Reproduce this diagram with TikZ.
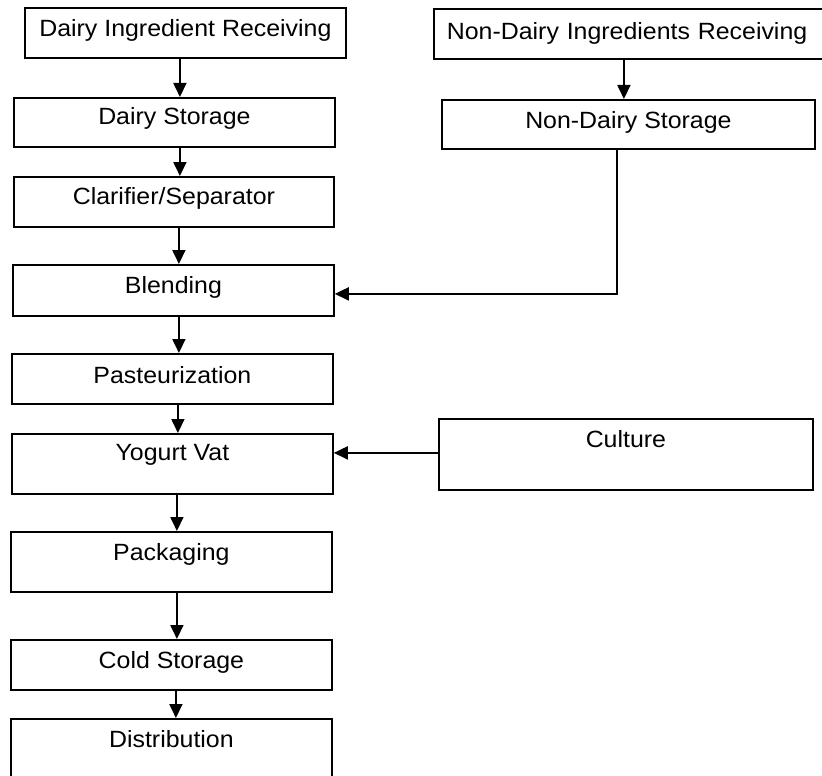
\documentclass[tikz,border=0pt]{standalone}
\usepackage{fontspec}
\setmainfont{Liberation Sans}[FakeStretch=1.06]
\usetikzlibrary{arrows.meta}
\begin{document}
\begin{tikzpicture}[x=1pt,y=-1pt,
  box/.style={draw, line width=1.8pt, anchor=north west, inner sep=0pt,
    font=\fontsize{23.5}{26}\selectfont},
  arr/.style={line width=1.8pt, -{Triangle[length=14pt,width=13pt]}}]
\useasboundingbox[fill=white] (0,0) rectangle (822,776);
\node[box, minimum width=321, text height=29, text depth=21] (dir) at (24,7) {Dairy Ingredient Receiving};
\node[box, minimum width=402, text width=376, inner xsep=13pt, align=left, text height=31, text depth=19] (ndir) at (433,8) {Non-Dairy Ingredients Receiving};
\node[box, minimum width=321, text height=27, text depth=22] (ds) at (13,97) {Dairy Storage};
\node[box, minimum width=373, text height=29, text depth=20] (nds) at (441,99) {Non-Dairy Storage};
\node[box, minimum width=320, text height=28, text depth=22] (clar) at (13,176) {Clarifier/Separator};
\node[box, minimum width=321, text height=29, text depth=22] (blend) at (12,264) {Blending};
\node[box, minimum width=321, text height=30, text depth=20] (past) at (11,353) {Pasteurization};
\node[box, minimum width=321, text height=27, text depth=33] (yv) at (11,433) {Yogurt Vat};
\node[box, minimum width=374, text height=29, text depth=42] (cult) at (438,418) {Culture};
\node[box, minimum width=321, text height=29, text depth=31] (pack) at (10,531) {Packaging};
\node[box, minimum width=321, text height=29, text depth=21] (cold) at (10,639) {Cold Storage};
\node[box, minimum width=321, text height=29, text depth=33] (dist) at (10,718) {Distribution};
\draw[arr] ([xshift=-5.5pt]dir.south) -- ([xshift=-5.5pt]dir.south |- ds.north);
\draw[arr] ([xshift=5.5pt]ds.south) -- ([xshift=5.5pt]ds.south |- clar.north);
\draw[arr] ([xshift=5pt]clar.south) -- ([xshift=5pt]clar.south |- blend.north);
\draw[arr] ([xshift=5.5pt]blend.south) -- ([xshift=5.5pt]blend.south |- past.north);
\draw[arr] ([xshift=5.5pt]past.south) -- ([xshift=5.5pt]past.south |- yv.north);
\draw[arr] ([xshift=4.5pt]yv.south) -- ([xshift=4.5pt]yv.south |- pack.north);
\draw[arr] ([xshift=5.5pt]pack.south) -- ([xshift=5.5pt]pack.south |- cold.north);
\draw[arr] ([xshift=4.5pt]cold.south) -- ([xshift=4.5pt]cold.south |- dist.north);
\draw[arr] ([xshift=-11pt]ndir.south) -- ([xshift=-11pt]ndir.south |- nds.north);
\draw[arr] ([xshift=-11.5pt]nds.south) |- ([yshift=-3.5pt]blend.east);
\draw[arr] ([yshift=1.5pt]cult.west) -- ([yshift=1.5pt]cult.west -| yv.east);
\end{tikzpicture}
\end{document}
